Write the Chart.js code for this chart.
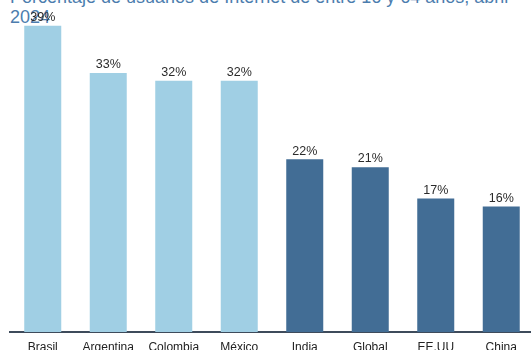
<!DOCTYPE html>
<html>
<head>
<meta charset="utf-8">
<script src="https://cdn.jsdelivr.net/npm/chart.js@4"></script>
<style>
    html, body { margin: 0; padding: 0; background: #fff; overflow: hidden; }
    #wrap { position: relative; width: 531px; height: 350px; overflow: hidden; }
    #title {
        position: absolute; left: 10px; top: -13px; width: 521px;
        font: 18px "Liberation Sans", Arial, sans-serif; line-height: 20px;
        color: #4c7dae; white-space: nowrap; z-index: 0;
    }
    #usersChart { position: absolute; left: 0; top: 0; z-index: 1; }
</style>
</head>
<body>
<div id="wrap">
    <div id="title">Porcentaje de usuarios de Internet de entre 16 y 64 años, abril<br>2024</div>
    <canvas id="usersChart"></canvas>
</div>
<script>
document.addEventListener("DOMContentLoaded", function () {

    const countries = ['Brasil', 'Argentina', 'Colombia', 'México', 'India', 'Global', 'EE.UU', 'China'];
    const userShare = [39, 33, 32, 32, 22, 21, 17, 16];
    const groupColors = ['#a0cfe4', '#a0cfe4', '#a0cfe4', '#a0cfe4', '#426d95', '#426d95', '#426d95', '#426d95'];

    // Writes the percentage above each bar
    const valueLabels = {
        id: 'valueLabels',
        afterDatasetsDraw(chart) {
            const ctx = chart.ctx;
            const meta = chart.getDatasetMeta(0);
            ctx.save();
            ctx.font = '12.5px "Liberation Sans", Arial, sans-serif';
            ctx.fillStyle = '#2b2b2b';
            ctx.textAlign = 'center';
            ctx.textBaseline = 'bottom';
            meta.data.forEach((bar, i) => {
                ctx.fillText(userShare[i] + '%', bar.x, bar.y - 2);
            });
            ctx.restore();
        }
    };

    const canvas = document.getElementById('usersChart');
    canvas.width = 535;
    canvas.height = 356;
    canvas.style.width = '535px';
    canvas.style.height = '356px';

    new Chart(canvas.getContext('2d'), {
        type: 'bar',
        data: {
            labels: countries,
            datasets: [{
                data: userShare,
                backgroundColor: groupColors,
                borderWidth: 0,
                barPercentage: 0.565,
                categoryPercentage: 1
            }]
        },
        options: {
            responsive: false,
            animation: false,
            layout: { padding: { left: 10, right: 1, top: 18, bottom: 0 } },
            plugins: {
                legend: { display: false },
                tooltip: { enabled: false }
            },
            scales: {
                x: {
                    grid: { display: false, drawTicks: false },
                    border: { display: true, color: '#3e4b5b', width: 2 },
                    ticks: {
                        color: '#222',
                        padding: 8,
                        font: { family: '"Liberation Sans", Arial, sans-serif', size: 12 }
                    },
                    afterFit(scale) { scale.height = 24; }
                },
                y: {
                    display: false,
                    min: 0,
                    max: 40
                }
            }
        },
        plugins: [valueLabels]
    });
});
</script>
</body>
</html>
